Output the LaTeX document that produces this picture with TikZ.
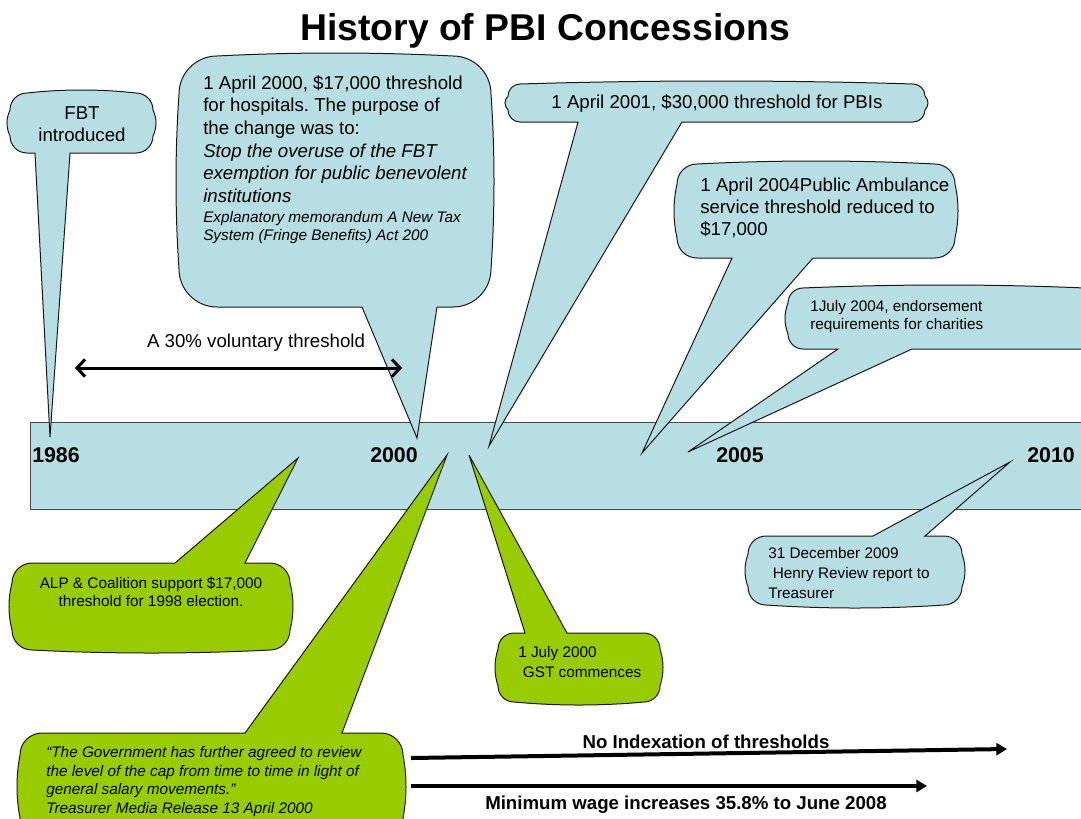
\documentclass[tikz,border=0pt]{standalone}
\usepackage{fontspec}
\setmainfont{Liberation Sans}
\usetikzlibrary{arrows.meta}
\frenchspacing
\definecolor{pbiblue}{RGB}{183,222,227}
\definecolor{pbigreen}{RGB}{153,204,0}
\definecolor{edgecol}{RGB}{25,25,25}
\def\bg{4}
% callout with tail on bottom edge: style, x0, y0, x1, y1, r, base-left, base-right, tip
\newcommand{\CallDown}[9]{%
  \draw[#1] ({#2+#6},#3)
    .. controls ({#2+#6+(#4-#2-2*#6)/3},{#3-\bg}) and ({#4-#6-(#4-#2-2*#6)/3},{#3-\bg}) .. ({#4-#6},#3)
    .. controls ({#4-0.448*#6},#3) and (#4,{#3+0.448*#6}) .. (#4,{#3+#6})
    .. controls ({#4+\bg},{#3+#6+(#5-#3-2*#6)/3}) and ({#4+\bg},{#5-#6-(#5-#3-2*#6)/3}) .. (#4,{#5-#6})
    .. controls (#4,{#5-0.448*#6}) and ({#4-0.448*#6},#5) .. ({#4-#6},#5)
    -- (#8,#5) -- (#9) -- (#7,#5) -- ({#2+#6},#5)
    .. controls ({#2+0.448*#6},#5) and (#2,{#5-0.448*#6}) .. (#2,{#5-#6})
    .. controls ({#2-\bg},{#5-#6-(#5-#3-2*#6)/3}) and ({#2-\bg},{#3+#6+(#5-#3-2*#6)/3}) .. (#2,{#3+#6})
    .. controls (#2,{#3+0.448*#6}) and ({#2+0.448*#6},#3) .. ({#2+#6},#3) -- cycle;}
% callout with tail on top edge
\newcommand{\CallUp}[9]{%
  \draw[#1] ({#2+#6},#3) -- (#7,#3) -- (#9) -- (#8,#3) -- ({#4-#6},#3)
    .. controls ({#4-0.448*#6},#3) and (#4,{#3+0.448*#6}) .. (#4,{#3+#6})
    .. controls ({#4+\bg},{#3+#6+(#5-#3-2*#6)/3}) and ({#4+\bg},{#5-#6-(#5-#3-2*#6)/3}) .. (#4,{#5-#6})
    .. controls (#4,{#5-0.448*#6}) and ({#4-0.448*#6},#5) .. ({#4-#6},#5)
    .. controls ({#4-#6-(#4-#2-2*#6)/3},{#5+\bg}) and ({#2+#6+(#4-#2-2*#6)/3},{#5+\bg}) .. ({#2+#6},#5)
    .. controls ({#2+0.448*#6},#5) and (#2,{#5-0.448*#6}) .. (#2,{#5-#6})
    .. controls ({#2-\bg},{#5-#6-(#5-#3-2*#6)/3}) and ({#2-\bg},{#3+#6+(#5-#3-2*#6)/3}) .. (#2,{#3+#6})
    .. controls (#2,{#3+0.448*#6}) and ({#2+0.448*#6},#3) .. ({#2+#6},#3) -- cycle;}
\begin{document}
\begin{tikzpicture}[x=0.75pt,y=-0.75pt,
  bluecall/.style={fill=pbiblue,draw=edgecol,line width=0.75pt},
  greencall/.style={fill=pbigreen,draw=edgecol,line width=0.75pt},
  txt/.style={inner sep=0pt,align=left,anchor=north west},
  yearlab/.style={inner sep=0pt,anchor=base west,font=\fontsize{16}{19}\selectfont\bfseries},
  thickarrow/.style={line width=3pt,-{Triangle[length=8pt,width=9pt]}},
  dblarrow/.style={line width=2.25pt,{Straight Barb[length=6pt,width=13pt]}-{Straight Barb[length=6pt,width=13pt]}}]
\useasboundingbox (0,0) rectangle (1081,818);
\clip (0,0) rectangle (1081,818);
\fill[white] (0,0) rectangle (1081,818);

% title
\node[anchor=base,inner sep=0pt,font=\fontsize{28}{32}\selectfont\bfseries] (title) at (545,40) {History of PBI Concessions};

% timeline bar
\draw[fill=pbiblue,draw=edgecol!80,line width=0.75pt] (30,422) rectangle (1100,509);

% tips of callouts
\coordinate (tipFBT) at (50,437);
\coordinate (tipHosp) at (417,438);
\coordinate (tipPBI) at (489,446);
\coordinate (tipAmb) at (642,453);
\coordinate (tipEnd) at (688,452);
\coordinate (tipHenry) at (1010,462);
\coordinate (tipALP) at (298,458);
\coordinate (tipGST) at (469,455);
\coordinate (tipGov) at (447,455);

% blue callouts
\CallDown{bluecall}{10}{93}{153}{153}{17}{35}{70}{tipFBT}
\CallDown{bluecall}{179}{56}{491}{307}{38}{362}{437}{tipHosp}
\CallDown{bluecall}{508}{84}{925}{122}{12}{578}{682}{tipPBI}
\CallDown{bluecall}{677}{164}{955}{258}{20}{732}{813}{tipAmb}
\CallDown{bluecall}{788}{288}{1100}{349}{15}{838}{912}{tipEnd}
\CallUp{bluecall}{748}{536}{962}{605}{18}{873}{925}{tipHenry}

% green callouts
\CallUp{greencall}{12}{563}{290}{650}{20}{175}{245}{tipALP}
\CallUp{greencall}{498}{633}{660}{702}{16}{525}{567}{tipGST}
\CallUp{greencall}{20}{733}{403}{840}{22}{245}{342}{tipGov}

% year labels
\node[yearlab] (y1986) at (32,462) {1986};
\node[yearlab] (y2000) at (370,462) {2000};
\node[yearlab] (y2005) at (716,462) {2005};
\node[yearlab] (y2010) at (1027,462) {2010};

% callout texts
\node[inner sep=0pt,align=center,font=\fontsize{14}{16.5}\selectfont] (tFBT) at (82,124) {FBT\\introduced};
\node[txt,font=\fontsize{14}{17}\selectfont] (tHosp) at (203,75) {1 April 2000, \$17,000 threshold\\for hospitals. The purpose of\\the change was to:\\\textit{Stop the overuse of the FBT}\\\textit{exemption for public benevolent}\\\textit{institutions}};
\node[txt,font=\fontsize{11.5}{13.5}\selectfont\itshape] (tHospNote) at (203,211) {Explanatory memorandum A New Tax\\System (Fringe Benefits) Act 200};
\node[inner sep=0pt,anchor=base,font=\fontsize{14}{17}\selectfont] (tPBI) at (717,108) {1 April 2001, \$30,000 threshold for PBIs};
\node[txt,font=\fontsize{14}{16.5}\selectfont] (tAmb) at (700,178) {1 April 2004Public Ambulance\\service threshold reduced to\\\$17,000};
\node[txt,font=\fontsize{11.5}{13.5}\selectfont] (tEnd) at (810,300) {1July 2004, endorsement\\requirements for charities};
\node[txt,font=\fontsize{11.5}{15}\selectfont] (tHenry) at (768,547) {31 December 2009\\\hspace*{0.3em}Henry Review report to\\Treasurer};
\node[inner sep=0pt,align=center,font=\fontsize{11.5}{13.5}\selectfont] (tALP) at (151,592) {ALP \& Coalition support \$17,000\\threshold for 1998 election.};
\node[txt,font=\fontsize{11.5}{15}\selectfont] (tGST) at (518,646) {1 July 2000\\\hspace*{0.3em}GST commences};
\node[txt,font=\fontsize{11.5}{14}\selectfont\itshape] (tGov) at (46,746) {“The Government has further agreed to review\\the level of the cap from time to time in light of\\general salary movements.”\\Treasurer Media Release 13 April 2000};

% voluntary threshold arrow
\node[inner sep=0pt,anchor=base,font=\fontsize{14}{17}\selectfont] (tVol) at (256,347) {A 30\% voluntary threshold};
\coordinate (volL) at (75,368);
\coordinate (volR) at (402,368);
\draw[dblarrow] (volL) -- (volR);

% bottom arrows
\coordinate (idxL) at (411,758);
\coordinate (idxR) at (1007,749);
\coordinate (wageL) at (411,786);
\coordinate (wageR) at (927,786);
\draw[thickarrow] (idxL) -- (idxR);
\draw[thickarrow] (wageL) -- (wageR);
\node[inner sep=0pt,anchor=base,font=\fontsize{14}{17}\selectfont\bfseries] (tIdx) at (706,748) {No Indexation of thresholds};
\node[inner sep=0pt,anchor=base,font=\fontsize{14}{17}\selectfont\bfseries] (tWage) at (686,809) {Minimum wage increases 35.8\% to June 2008};
\end{tikzpicture}
\end{document}
